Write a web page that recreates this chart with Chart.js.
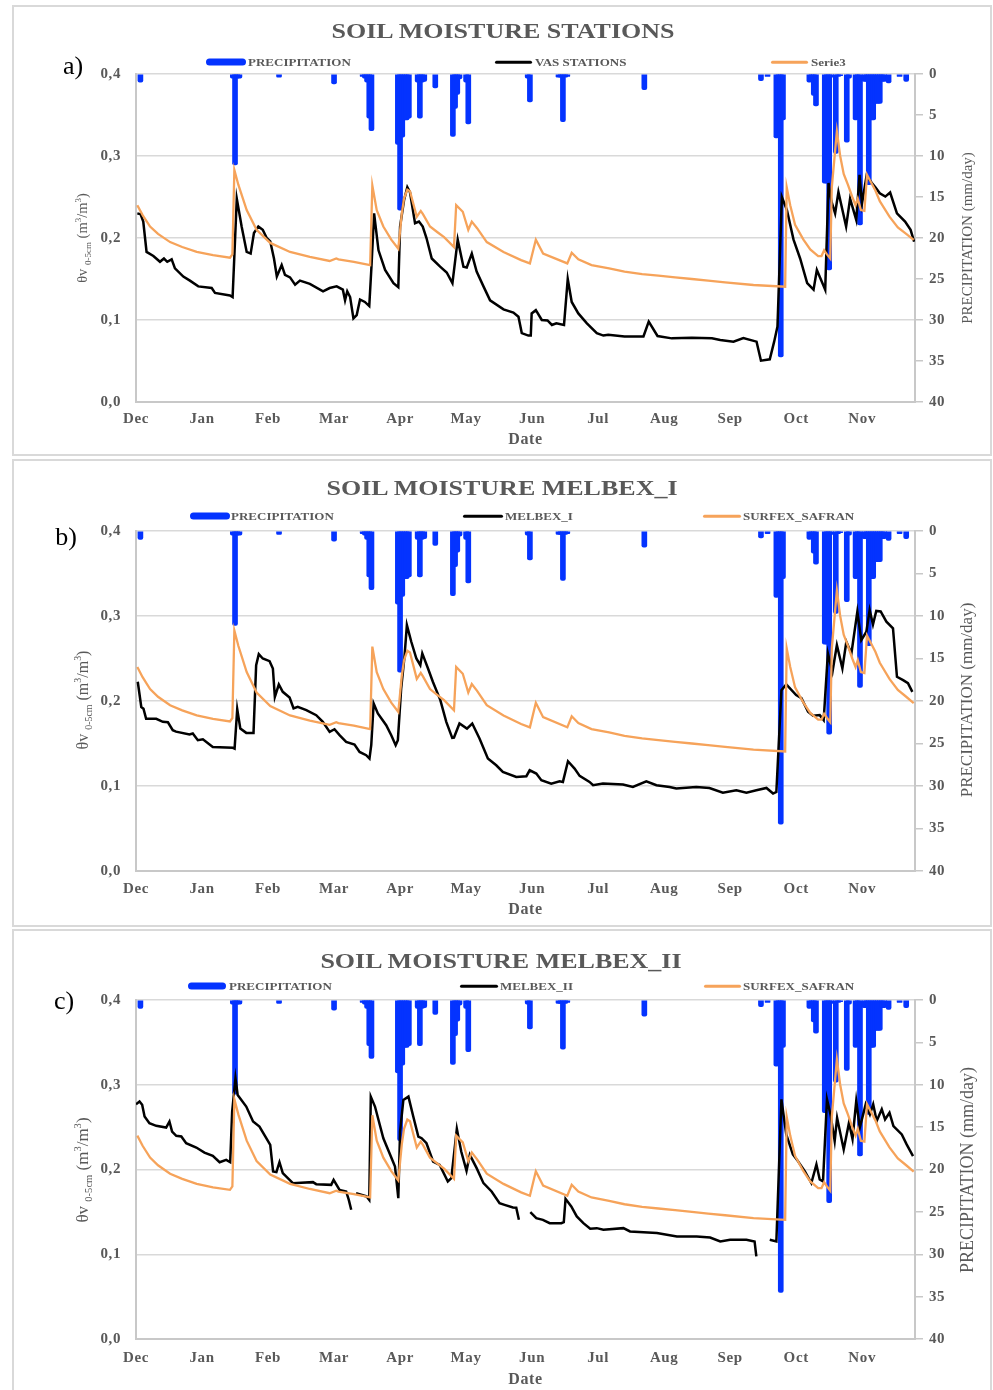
<!DOCTYPE html>
<html>
<head>
<meta charset="utf-8">
<script src="https://cdn.jsdelivr.net/npm/chart.js@4.4.1/dist/chart.umd.min.js"></script>
<style>
  body { margin: 0; background: #fff; font-family: 'Liberation Serif', 'Times New Roman', serif; }
  #page { position: relative; width: 993px; height: 1390px; overflow: hidden; }
  .box { position: absolute; left: 12px; width: 980px; border: 2px solid #d9d9d9; box-sizing: border-box; }
  canvas { position: absolute; left: 14px; }
  .title { position: absolute; font-weight: bold; font-size: 20px; color: #595959; white-space: nowrap;
           transform: translate(-50%, -50%) scaleX(1.3); }
  .tag { position: absolute; font-size: 26px; color: #000; transform: translate(-50%, -50%); }
  .swatch { position: absolute; transform: translateY(-50%); border-radius: 4px; }
  .ltext { position: absolute; font-size: 10px; font-weight: bold; color: #595959; white-space: nowrap;
           transform-origin: left center; transform: translateY(-50%) scaleX(1.3); }
  .vtitle { position: absolute; color: #595959; white-space: nowrap; transform: translate(-50%, -50%) rotate(-90deg); }
  .vtitle sub, .vtitle sup { font-size: 62%; }
</style>
</head>
<body>
<div id="page">
  <div class="box" style="top:5px;height:451px"></div>
  <div class="box" style="top:459px;height:468px"></div>
  <div class="box" style="top:929px;height:466px"></div>

  <canvas id="chartA" width="976" height="446" style="top:7px"></canvas>
  <canvas id="chartB" width="976" height="464" style="top:461px"></canvas>
  <canvas id="chartC" width="976" height="458" style="top:931px"></canvas>

  <div class="title" style="left:503px;top:31px">SOIL MOISTURE STATIONS</div>
  <div class="title" style="left:502px;top:488px">SOIL MOISTURE MELBEX_I</div>
  <div class="title" style="left:501px;top:961px">SOIL MOISTURE MELBEX_II</div>

  <div class="tag" style="left:73px;top:66px">a)</div>
  <div class="tag" style="left:66px;top:537px">b)</div>
  <div class="tag" style="left:64px;top:1001px">c)</div>

  <!-- legends -->
  <div class="swatch" style="left:206px;top:62px;width:40px;height:7px;background:#0433ff"></div>
  <div class="ltext" style="left:248px;top:62px">PRECIPITATION</div>
  <div class="swatch" style="left:495px;top:62px;width:37px;height:2.5px;background:#000"></div>
  <div class="ltext" style="left:535px;top:62px">VAS STATIONS</div>
  <div class="swatch" style="left:771px;top:62px;width:37px;height:2.5px;background:#f6a35a"></div>
  <div class="ltext" style="left:811px;top:62px">Serie3</div>

  <div class="swatch" style="left:190px;top:516px;width:40px;height:7px;background:#0433ff"></div>
  <div class="ltext" style="left:231px;top:516px">PRECIPITATION</div>
  <div class="swatch" style="left:463px;top:516px;width:40px;height:2.5px;background:#000"></div>
  <div class="ltext" style="left:505px;top:516px">MELBEX_I</div>
  <div class="swatch" style="left:703px;top:516px;width:38px;height:2.5px;background:#f6a35a"></div>
  <div class="ltext" style="left:743px;top:516px">SURFEX_SAFRAN</div>

  <div class="swatch" style="left:188px;top:986px;width:38px;height:7px;background:#0433ff"></div>
  <div class="ltext" style="left:229px;top:986px">PRECIPITATION</div>
  <div class="swatch" style="left:460px;top:986px;width:38px;height:2.5px;background:#000"></div>
  <div class="ltext" style="left:500px;top:986px">MELBEX_II</div>
  <div class="swatch" style="left:704px;top:986px;width:37px;height:2.5px;background:#f6a35a"></div>
  <div class="ltext" style="left:743px;top:986px">SURFEX_SAFRAN</div>

  <!-- axis titles -->
  <div class="vtitle" style="left:83px;top:238px;font-size:14.5px">&theta;v <sub>0-5cm</sub> (m<sup>3</sup>/m<sup>3</sup>)</div>
  <div class="vtitle" style="left:83px;top:700px;font-size:16px">&theta;v <sub>0-5cm</sub> (m<sup>3</sup>/m<sup>3</sup>)</div>
  <div class="vtitle" style="left:83px;top:1170px;font-size:17px">&theta;v <sub>0-5cm</sub> (m<sup>3</sup>/m<sup>3</sup>)</div>
  <div class="vtitle" style="left:967px;top:238px;font-size:15px">PRECIPITATION (mm/day)</div>
  <div class="vtitle" style="left:967px;top:700px;font-size:17px">PRECIPITATION (mm/day)</div>
  <div class="vtitle" style="left:967px;top:1170px;font-size:18px">PRECIPITATION (mm/day)</div>
</div>

<script>
// x axis: days since 1 Dec, one label every 30 days
var monthLabels = ["Dec", "Jan", "Feb", "Mar", "Apr", "May", "Jun", "Jul", "Aug", "Sep", "Oct", "Nov"];

// daily precipitation (mm/day), same for all three panels
var precipDays = [2, 44, 45, 46, 47, 65, 90, 103, 104, 105, 106, 107, 119, 120, 121, 122, 123, 124, 128, 129, 130, 131,
  136, 144, 145, 146, 147, 150, 151, 178, 179, 192, 193, 194, 195, 196, 231, 284, 287, 291, 292, 293, 294,
  306, 307, 308, 309, 313, 314, 315, 316, 318, 319, 320, 323, 324, 327, 328, 329, 331, 332, 333, 334, 335,
  336, 337, 338, 339, 340, 342, 347, 350];
var precipValues = [1.0, 0.5, 11.1, 0.5, 0.5, 0.4, 1.2, 0.3, 0.5, 1.0, 5.4, 6.9, 8.6, 16.6, 7.7, 5.6, 5.6, 5.4, 1.0, 5.4, 1.0, 0.9,
  1.7, 7.6, 4.2, 2.5, 0.6, 1.0, 6.1, 0.5, 3.4, 0.4, 0.4, 5.8, 0.4, 0.3, 1.9, 0.8, 0.3, 7.8, 5.8, 34.5, 5.6,
  1.0, 0.9, 2.6, 3.9, 13.3, 13.3, 23.9, 0.4, 9.7, 0.3, 0.2, 8.3, 0.5, 5.6, 0.6, 18.4, 0.9, 0.9, 13.5, 5.6, 5.6,
  3.6, 3.6, 3.6, 0.9, 0.9, 1.1, 0.3, 0.9];

// SURFEX_SAFRAN simulation (m3/m3)
var safranDays = [0.6, 3, 6.4, 10, 15.5, 21, 27.6, 35, 42.7, 43.8, 44.7, 46.5, 50.3, 54.8, 61, 70, 79, 88, 91, 92, 99,
  106.4, 107.4, 109.4, 112.4, 116, 119.2, 120.8, 121.8, 123.3, 124.5, 127.6, 129.4, 130.4, 133.6, 137, 140, 144.5,
  145.5, 148.5, 151, 152.6, 155, 159.4, 167, 175, 179, 181.7, 185, 196, 198, 201, 207, 215, 222, 230, 237.4, 245,
  252.6, 260, 267.7, 280.6, 295, 295.7, 297.3, 299.5, 303.3, 306.4, 310, 311.5, 312.7, 314, 315.5, 316.2, 318.5,
  320, 321.6, 322.5, 323.5, 325.5, 327, 328, 329.4, 331, 332.2, 334, 336, 338, 342.4, 346.2, 350, 353.4];
var safranValues = [0.240, 0.228, 0.214, 0.205, 0.195, 0.189, 0.183, 0.179, 0.176, 0.180, 0.283, 0.265, 0.234, 0.210, 0.194,
  0.183, 0.177, 0.172, 0.175, 0.174, 0.171, 0.167, 0.264, 0.234, 0.214, 0.198, 0.187, 0.230, 0.248, 0.259, 0.257,
  0.226, 0.233, 0.229, 0.214, 0.207, 0.201, 0.189, 0.240, 0.232, 0.210, 0.220, 0.212, 0.195, 0.183, 0.173, 0.169,
  0.198, 0.181, 0.169, 0.182, 0.174, 0.167, 0.163, 0.159, 0.156, 0.154, 0.152, 0.150, 0.148, 0.146, 0.1427, 0.1406,
  0.262, 0.240, 0.216, 0.198, 0.186, 0.178, 0.178, 0.185, 0.180, 0.175, 0.262, 0.330, 0.300, 0.278, 0.272, 0.265,
  0.250, 0.240, 0.248, 0.234, 0.233, 0.277, 0.268, 0.258, 0.245, 0.226, 0.213, 0.205, 0.1976];

// VAS stations mean (panel a)
var vasDays = [0.6, 2.1, 3.3, 4.8, 7.9, 10.9, 12.7, 14.2, 16.2, 17.7, 21.5, 24.5, 28.3, 34.4, 35.9, 42.7, 43.9, 45.8, 48,
  50.3, 52.1, 53.6, 55.6, 57.6, 59.4, 61, 62.7, 64, 66.2, 67.7, 70, 72.3, 74.5, 79, 85, 88, 91.2, 94, 95, 96, 97.3,
  98.8, 100.3, 101.8, 104, 106, 107, 108.2, 110.2, 113.2, 117, 119.2, 120, 121.8, 123.3, 124.5, 126.8, 128.6, 130.3,
  132, 134.4, 138.2, 141.2, 143.8, 146.2, 148.8, 150.3, 152.6, 154.8, 157.9, 160.9, 167, 171.5, 173.8, 175.3, 178.3,
  179.4, 179.8, 181.7, 184.4, 187, 189, 191, 194.5, 196.2, 198, 201, 204.9, 209.4, 212.4, 214.6, 222, 230.6, 233,
  237, 243.5, 252.6, 261.7, 265.5, 271.5, 276, 282, 284, 288, 290, 291.5, 293.5, 295.8, 298.8, 301.8, 305, 307.9,
  309.4, 313.2, 314.7, 316, 317.7, 319.2, 322.7, 324.5, 327.3, 328.8, 329.9, 332, 334.4, 336, 338, 340.5, 342.7,
  345.8, 349.5, 352, 353.6];
var vasValues = [0.230, 0.229, 0.220, 0.183, 0.178, 0.171, 0.175, 0.171, 0.174, 0.163, 0.153, 0.148, 0.141, 0.139, 0.133,
  0.130, 0.128, 0.248, 0.214, 0.183, 0.181, 0.206, 0.214, 0.210, 0.200, 0.196, 0.175, 0.153, 0.167, 0.155, 0.152,
  0.143, 0.148, 0.144, 0.135, 0.139, 0.141, 0.137, 0.124, 0.135, 0.128, 0.102, 0.106, 0.125, 0.122, 0.117, 0.165,
  0.230, 0.185, 0.161, 0.145, 0.140, 0.214, 0.246, 0.262, 0.256, 0.218, 0.220, 0.214, 0.200, 0.175, 0.165, 0.158,
  0.145, 0.198, 0.165, 0.164, 0.181, 0.159, 0.141, 0.124, 0.113, 0.109, 0.104, 0.084, 0.081, 0.081, 0.108, 0.112,
  0.100, 0.0995, 0.094, 0.096, 0.094, 0.150, 0.122, 0.108, 0.096, 0.084, 0.081, 0.082, 0.080, 0.080, 0.098, 0.0805,
  0.0776, 0.0785, 0.0776, 0.0756, 0.0736, 0.078, 0.0736, 0.0504, 0.052, 0.0736, 0.092, 0.250, 0.234, 0.198, 0.175,
  0.145, 0.137, 0.161, 0.137, 0.267, 0.245, 0.230, 0.256, 0.214, 0.248, 0.222, 0.277, 0.242, 0.276, 0.267, 0.262,
  0.2545, 0.2505, 0.2555, 0.230, 0.220, 0.210, 0.1955];

// MELBEX_I (panel b)
var melbex1Days = [0.8, 2.4, 3.4, 4.6, 9.2, 12.2, 14.5, 16.7, 18.2, 24.3, 25.8, 28.1, 30.4, 34.9, 44, 44.8, 46, 47.4, 50.1,
  53.4, 54.6, 55.8, 57.6, 60.7, 62.2, 63.1, 64.9, 66.7, 69.8, 71.6, 73.5, 77.4, 81.9, 84.9, 88, 90.2, 92.5, 95.5,
  99.3, 101.6, 104.6, 106.1, 106.9, 108, 109.9, 113.7, 116, 118, 119, 120.5, 122, 123.1, 125.1, 127.4, 129.2, 130.1,
  132.7, 134.9, 138.3, 141, 143.7, 144.5, 147, 150.4, 152.8, 156.1, 159.9, 163.7, 166.7, 172.8, 177.4, 178.9, 181.9,
  184.2, 188.7, 192.5, 194, 196.3, 199.3, 201.6, 206.1, 207.7, 212.2, 221.3, 225.8, 231.9, 236.5, 242.5, 245.5,
  254.6, 260.6, 266.7, 272.8, 277.4, 281.9, 286.5, 289.5, 291, 293.3, 295.5, 300, 302.4, 305.4, 307.7, 310.7, 312.5,
  314.4, 316.5, 318.5, 321, 322.8, 325.1, 327.8, 329.6, 331.9, 333.4, 334.9, 336.4, 338.4, 341, 344, 345.8, 348.6,
  350.8, 352.8];
var melbex1Values = [0.2226, 0.193, 0.191, 0.179, 0.179, 0.1755, 0.175, 0.1657, 0.164, 0.1606, 0.1617, 0.1539, 0.155, 0.146,
  0.1449, 0.144, 0.1904, 0.1676, 0.1625, 0.1625, 0.2422, 0.2551, 0.250, 0.2469, 0.2383, 0.2049, 0.2194, 0.2108,
  0.2041, 0.1912, 0.1931, 0.1892, 0.1833, 0.1755, 0.1637, 0.1668, 0.1598, 0.1519, 0.1488, 0.1401, 0.1362, 0.1323,
  0.148, 0.197, 0.1853, 0.1715, 0.1598, 0.148, 0.1539, 0.2147, 0.252, 0.2893, 0.2697, 0.250, 0.2422, 0.256, 0.2383,
  0.2226, 0.201, 0.1755, 0.1566, 0.157, 0.1735, 0.1676, 0.1735, 0.1558, 0.1323, 0.1244, 0.1166, 0.1107, 0.1115,
  0.1185, 0.1146, 0.1068, 0.1028, 0.1056, 0.1048, 0.1291, 0.1205, 0.1119, 0.1048, 0.1009, 0.1028, 0.1017, 0.0989,
  0.1056, 0.1009, 0.0989, 0.097, 0.0989, 0.0977, 0.0922, 0.095, 0.0922, 0.095, 0.0977, 0.0911, 0.093, 0.2128,
  0.2195, 0.207, 0.2034, 0.1873, 0.1826, 0.1834, 0.1775, 0.256, 0.2344, 0.2658, 0.2384, 0.2697, 0.256, 0.305,
  0.2717, 0.2815, 0.307, 0.29, 0.306, 0.3053, 0.2933, 0.2855, 0.2285, 0.2246, 0.221, 0.2108];

// MELBEX_II (panel c), null = missing record
var melbex2Days = [0, 1.6, 2.8, 3.9, 6.1, 9.2, 13.7, 15.2, 16.4, 18.3, 20.6, 22.8, 27.4, 31.1, 34.9, 38, 41, 42.8, 43.7,
  45.2, 46.2, 50.1, 53.2, 56.1, 59.2, 61, 62.3, 63.8, 65.2, 66.7, 69.8, 71.3, 75, 80.4, 81.9, 88.7, 89.8, 92.5, 95.5,
  96.7, 97.8, 98.5, 100, 104.8, 106, 106.7, 108.6, 112.4, 115.5, 117.7, 119.2, 120, 121.5, 123.8, 126, 128.3, 129.8,
  132, 135, 138, 141.7, 143.3, 145.8, 147.8, 150.2, 151.7, 154.8, 157.9, 161.6, 165.2, 167.5, 171.3, 172.8, 174,
  176, 179.2, 181.9, 184.9, 188, 193.3, 194.4, 195.2, 197.8, 200.3, 203.3, 206.4, 209.4, 212.4, 221.5, 224.5, 236.7,
  245.8, 254.8, 260.9, 265.5, 270, 277.4, 281.1, 281.9, 285, 288, 291, 293.3, 295.5, 298.5, 300.8, 303.9, 306.9,
  309.2, 310.7, 312.2, 314, 315.6, 317.5, 318.6, 321.6, 324, 325.6, 327.3, 328.9, 331.6, 333.5, 335, 336.6, 338.9,
  340.4, 342.4, 344.2, 348, 350.2, 353.1];
var melbex2Values = [0.277, 0.2802, 0.2763, 0.2625, 0.2546, 0.2515, 0.2495, 0.2566, 0.2448, 0.2397, 0.239, 0.231, 0.2259,
  0.22, 0.2161, 0.2086, 0.2114, 0.2086, 0.2684, 0.3077, 0.288, 0.2743, 0.2566, 0.2507, 0.2369, 0.2291, 0.1976,
  0.1969, 0.2086, 0.1957, 0.1878, 0.1839, 0.1845, 0.1851, 0.1827, 0.1819, 0.1878, 0.176, 0.1741, 0.1642, 0.1525,
  null, 0.172, 0.1682, 0.1642, 0.286, 0.2743, 0.2369, 0.2173, 0.2035, 0.1662, 0.2448, 0.2821, 0.286, 0.2625,
  0.2389, 0.2369, 0.231, 0.2094, 0.2055, 0.1859, 0.1898, 0.248, 0.2212, 0.1984, 0.2173, 0.2016, 0.1839, 0.1741,
  0.1603, 0.1583, 0.1552, 0.155, 0.1406, null, 0.1497, 0.1426, 0.1406, 0.1367, 0.1367, 0.138, 0.1654, 0.1564,
  0.1446, 0.1367, 0.13, 0.1308, 0.1289, 0.1308, 0.1269, 0.125, 0.121, 0.121, 0.1198, 0.1151, 0.1171, 0.1171,
  0.1151, 0.0974, null, 0.1172, 0.1152, 0.2828, 0.2414, 0.2178, 0.2099, 0.198, 0.184, 0.2059, 0.1882, 0.186,
  0.2828, 0.265, 0.2335, 0.261, 0.2237, 0.2552, 0.236, 0.2808, 0.2493, 0.2769, 0.265, 0.2769, 0.2572, 0.271,
  0.2592, 0.267, 0.2513, 0.2414, 0.2296, 0.2158];

var BLUE = "#0433ff";
var ORANGE = "#f6a35a";
var GREY = "#595959";
var tickFont = { family: "'Liberation Serif', serif", size: 15, weight: "bold" };

// slightly wider tick lettering
var spacedText = {
  id: "spacedText",
  beforeDraw: function (chart) { chart.ctx.letterSpacing = "0.6px"; }
};

function toPoints(xs, ys) {
  return xs.map(function (d, i) { return { x: d, y: ys[i] }; });
}

function makePanel(id, stationLabel, stationDays, stationValues, padTop, xAxisHeight, xTickPad, titlePad) {
  new Chart(document.getElementById(id), {
    type: "bar",
    plugins: [spacedText],
    data: {
      datasets: [
        {
          type: "line", label: "SURFEX_SAFRAN", data: toPoints(safranDays, safranValues),
          borderColor: ORANGE, borderWidth: 2.3, pointRadius: 0, tension: 0, yAxisID: "y", order: 1
        },
        {
          type: "line", label: stationLabel, data: toPoints(stationDays, stationValues),
          borderColor: "#000", borderWidth: 2.5, pointRadius: 0, tension: 0, spanGaps: false, yAxisID: "y", order: 2
        },
        {
          type: "bar", label: "PRECIPITATION", data: toPoints(precipDays, precipValues),
          backgroundColor: BLUE, barThickness: 5, borderRadius: 2, yAxisID: "y1", order: 3
        }
      ]
    },
    options: {
      responsive: false,
      animation: false,
      layout: { padding: { top: padTop, left: 0, right: 0, bottom: 0 } },
      plugins: { legend: { display: false }, tooltip: { enabled: false } },
      scales: {
        x: {
          type: "linear", min: 0, max: 354, offset: false,
          grid: { drawOnChartArea: false, drawTicks: false },
          border: { color: "#c8c8c8", width: 2 },
          ticks: {
            font: tickFont, color: GREY, padding: xTickPad, maxRotation: 0, autoSkip: false,
            callback: function (v) { return monthLabels[Math.round(v / 30)]; }
          },
          afterBuildTicks: function (s) {
            s.ticks = monthLabels.map(function (m, i) { return { value: i * 30 }; });
          },
          afterFit: function (s) { s.height = xAxisHeight; },
          title: {
            display: true, text: "Date", color: GREY,
            font: { family: "'Liberation Serif', serif", size: 16, weight: "bold" },
            padding: { top: 0, bottom: titlePad }
          }
        },
        y: {
          position: "left", min: 0, max: 0.4,
          grid: { color: "#d9d9d9", lineWidth: 1.5, drawTicks: false },
          border: { color: "#c8c8c8", width: 2 },
          ticks: {
            stepSize: 0.1, font: tickFont, color: GREY, padding: 15,
            callback: function (v) { return v.toFixed(1).replace(".", ","); }
          },
          afterFit: function (s) { s.width = 122; }
        },
        y1: {
          position: "right", min: 0, max: 40, reverse: true,
          grid: { drawOnChartArea: false, color: "#c8c8c8", lineWidth: 1.5, tickLength: 8 },
          border: { color: "#c8c8c8", width: 2 },
          ticks: { stepSize: 5, font: tickFont, color: GREY, padding: 6 },
          afterFit: function (s) { s.width = 75; }
        }
      }
    }
  });
}

makePanel("chartA", "VAS STATIONS", vasDays, vasValues, 67, 51, 8, 4);
makePanel("chartB", "MELBEX_I", melbex1Days, melbex1Values, 70, 54, 9, 6);
makePanel("chartC", "MELBEX_II", melbex2Days, melbex2Values, 69, 50, 10, 0);
</script>
</body>
</html>
